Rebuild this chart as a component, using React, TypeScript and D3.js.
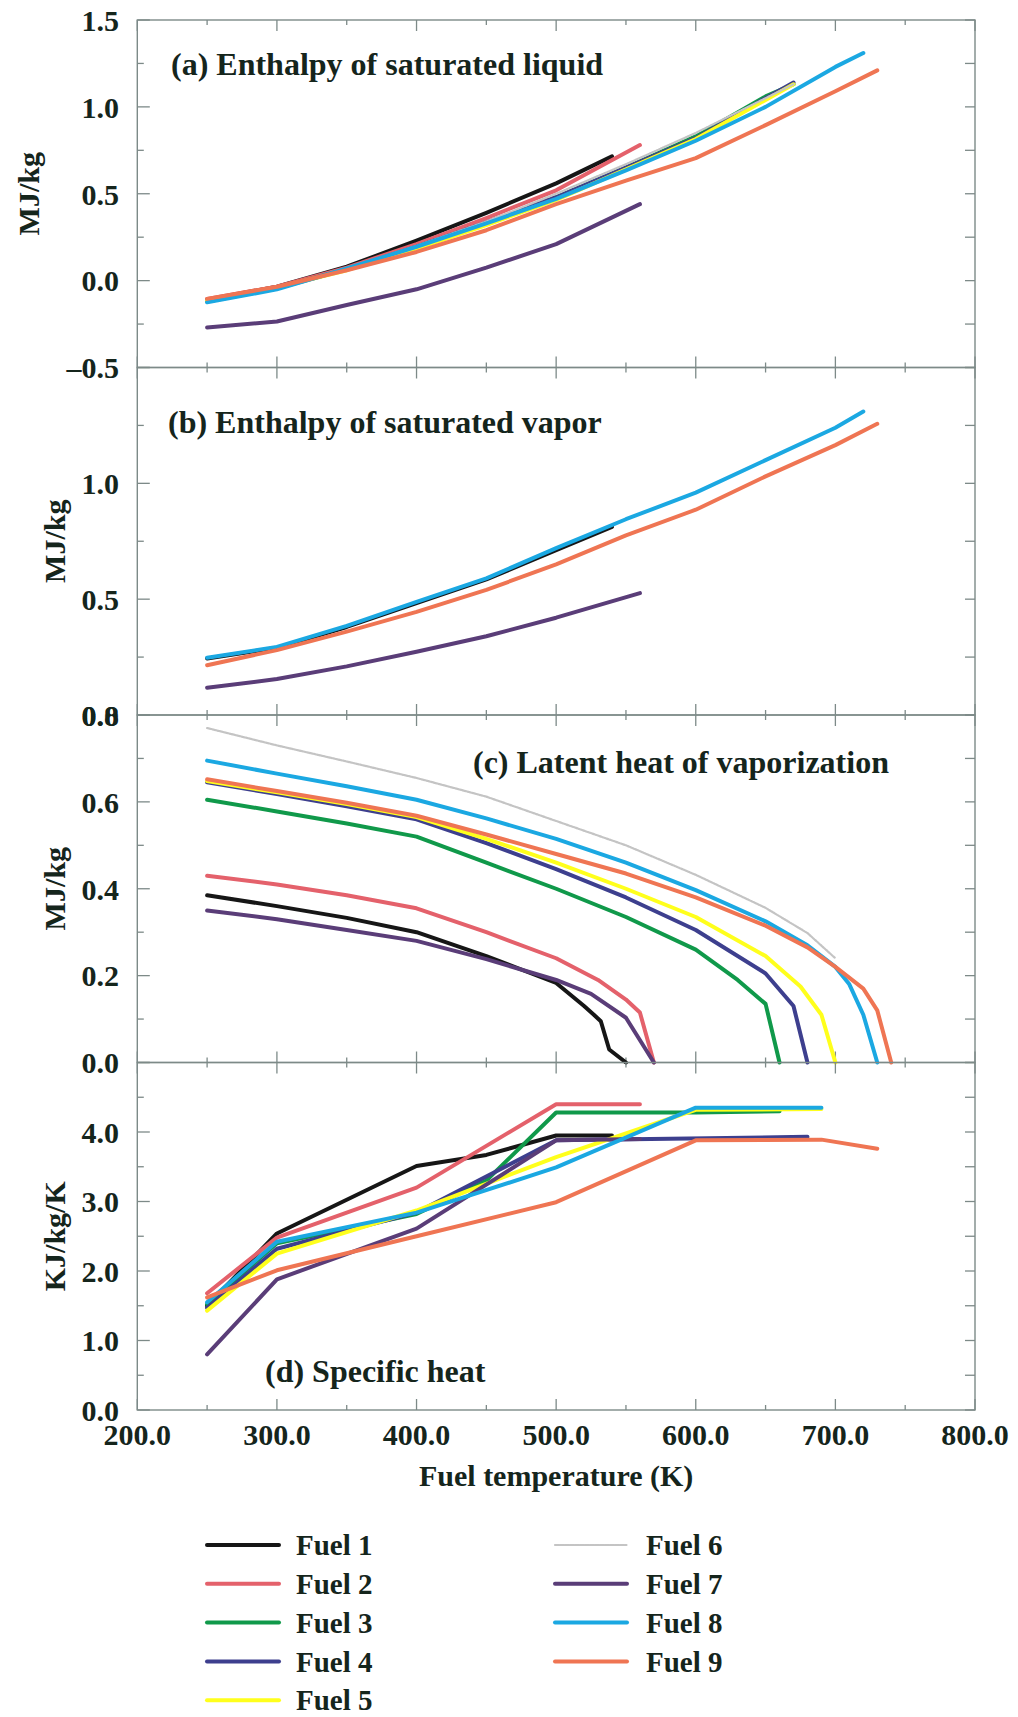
import React from "react";
import * as d3 from "d3";

type Pt = [number, number];

const fuelNames = ["Fuel 1", "Fuel 2", "Fuel 3", "Fuel 4", "Fuel 5", "Fuel 6", "Fuel 7", "Fuel 8", "Fuel 9"];
const fuelColors = ["#161616", "#e4616b", "#10994a", "#3d3f8e", "#ffff1c", "#c4c4c4", "#5a3d78", "#1ba8e2", "#ef7553"];

// (a) Enthalpy of saturated liquid, MJ/kg
const liquidEnthalpy: (Pt[] | null)[] = [
  [[250, -0.11], [300, -0.035], [350, 0.08], [400, 0.23], [450, 0.39], [500, 0.56], [540, 0.715]],
  [[250, -0.105], [300, -0.035], [350, 0.075], [400, 0.21], [450, 0.36], [500, 0.52], [560, 0.78]],
  [[250, -0.115], [300, -0.04], [350, 0.065], [400, 0.19], [450, 0.33], [500, 0.48], [550, 0.65], [600, 0.83], [650, 1.06], [670, 1.13]],
  [[250, -0.12], [300, -0.045], [350, 0.065], [400, 0.195], [450, 0.335], [500, 0.48], [550, 0.65], [600, 0.82], [650, 1.05], [670, 1.14]],
  [[250, -0.115], [300, -0.04], [350, 0.06], [400, 0.185], [450, 0.32], [500, 0.465], [550, 0.64], [600, 0.815], [650, 1.04], [670, 1.13]],
  [[250, -0.12], [300, -0.045], [350, 0.07], [400, 0.2], [450, 0.34], [500, 0.5], [550, 0.67], [600, 0.85], [650, 1.05], [670, 1.13]],
  [[250, -0.27], [300, -0.235], [350, -0.14], [400, -0.05], [450, 0.075], [500, 0.21], [560, 0.44]],
  [[250, -0.125], [300, -0.05], [350, 0.07], [400, 0.195], [450, 0.33], [500, 0.47], [550, 0.635], [600, 0.805], [650, 1.0], [700, 1.23], [720, 1.31]],
  [[250, -0.105], [300, -0.035], [350, 0.06], [400, 0.165], [450, 0.29], [500, 0.44], [550, 0.575], [600, 0.705], [650, 0.895], [700, 1.09], [730, 1.21]],
];

// (b) Enthalpy of saturated vapor, MJ/kg
const vaporEnthalpy: (Pt[] | null)[] = [
  [[250, 0.244], [300, 0.29], [350, 0.38], [400, 0.483], [450, 0.585], [500, 0.712], [540, 0.812]],
  null,
  null,
  null,
  null,
  null,
  [[250, 0.118], [300, 0.155], [350, 0.21], [400, 0.273], [450, 0.34], [500, 0.42], [560, 0.526]],
  [[250, 0.247], [300, 0.294], [350, 0.385], [400, 0.488], [450, 0.59], [500, 0.72], [550, 0.845], [600, 0.96], [650, 1.1], [700, 1.24], [720, 1.31]],
  [[250, 0.215], [300, 0.28], [350, 0.36], [400, 0.445], [450, 0.54], [500, 0.65], [550, 0.775], [600, 0.886], [650, 1.03], [700, 1.165], [730, 1.257]],
];

// (c) Latent heat of vaporization, MJ/kg
const latentHeat: (Pt[] | null)[] = [
  [[250, 0.385], [300, 0.36], [350, 0.333], [400, 0.3], [450, 0.245], [500, 0.183], [520, 0.13], [527, 0.11], [532, 0.095], [538, 0.03], [550, 0.0]],
  [[250, 0.43], [300, 0.41], [350, 0.385], [400, 0.355], [450, 0.3], [500, 0.24], [530, 0.19], [550, 0.145], [560, 0.115], [570, 0.0]],
  [[250, 0.605], [300, 0.578], [350, 0.55], [400, 0.52], [450, 0.46], [500, 0.4], [550, 0.335], [600, 0.26], [630, 0.19], [650, 0.135], [660, 0.0]],
  [[250, 0.645], [300, 0.618], [350, 0.59], [400, 0.56], [450, 0.505], [500, 0.445], [550, 0.38], [600, 0.305], [650, 0.205], [670, 0.13], [680, 0.0]],
  [[250, 0.648], [300, 0.622], [350, 0.595], [400, 0.565], [450, 0.515], [500, 0.46], [550, 0.4], [600, 0.335], [650, 0.245], [675, 0.175], [690, 0.11], [700, 0.0]],
  [[250, 0.77], [300, 0.73], [350, 0.693], [400, 0.655], [450, 0.612], [500, 0.556], [550, 0.5], [600, 0.432], [650, 0.356], [680, 0.298], [700, 0.24]],
  [[250, 0.35], [300, 0.33], [350, 0.305], [400, 0.28], [450, 0.238], [500, 0.19], [525, 0.158], [550, 0.103], [570, 0.0]],
  [[250, 0.695], [300, 0.665], [350, 0.636], [400, 0.605], [450, 0.562], [500, 0.515], [550, 0.46], [600, 0.397], [650, 0.325], [680, 0.27], [700, 0.22], [710, 0.18], [720, 0.11], [730, 0.0]],
  [[250, 0.652], [300, 0.625], [350, 0.598], [400, 0.568], [450, 0.525], [500, 0.48], [550, 0.435], [600, 0.38], [650, 0.315], [680, 0.265], [700, 0.22], [720, 0.17], [730, 0.12], [740, 0.0]],
];

// (d) Specific heat, KJ/kg/K
const specificHeat: (Pt[] | null)[] = [
  [[250, 1.5], [300, 2.54], [400, 3.51], [450, 3.67], [500, 3.95], [540, 3.95]],
  [[250, 1.68], [300, 2.48], [400, 3.2], [500, 4.4], [560, 4.4]],
  [[250, 1.52], [300, 2.4], [400, 2.82], [450, 3.3], [500, 4.28], [600, 4.28], [660, 4.3]],
  [[250, 1.47], [300, 2.32], [400, 2.84], [500, 3.88], [680, 3.93]],
  [[250, 1.43], [300, 2.25], [400, 2.87], [500, 3.64], [600, 4.32], [690, 4.33]],
  null,
  [[250, 0.8], [300, 1.88], [400, 2.61], [500, 3.88], [560, 3.9]],
  [[250, 1.55], [300, 2.42], [400, 2.84], [500, 3.49], [600, 4.35], [690, 4.35]],
  [[250, 1.62], [300, 2.01], [400, 2.5], [500, 2.99], [600, 3.88], [690, 3.89], [730, 3.76]],
];

const tempTicks = [200, 300, 400, 500, 600, 700, 800];
const liquidTicks = [-0.5, 0.0, 0.5, 1.0, 1.5];
const vaporTicks = [0.0, 0.5, 1.0];
const latentTicks = [0.0, 0.2, 0.4, 0.6, 0.8];
const heatTicks = [0.0, 1.0, 2.0, 3.0, 4.0];

const panelTitles = [
  "(a) Enthalpy of saturated liquid",
  "(b) Enthalpy of saturated vapor",
  "(c) Latent heat of vaporization",
  "(d) Specific heat",
];
const unitLabels = ["MJ/kg", "MJ/kg", "MJ/kg", "KJ/kg/K"];
const xTitle = "Fuel temperature (K)";

const FONT = "'Liberation Serif', 'Times New Roman', serif";
const INK = "#15251c";
const AXIS = "#7d8a88";

const X0 = 137.3;
const X1 = 975;
const TOP = 20;
const PH = 347.5;

const x = d3.scaleLinear().domain([200, 800]).range([X0, X1]);

interface PanelSpec {
  series: (Pt[] | null)[];
  domain: [number, number];
  majorStep: number;
  minorStep: number;
  labels: number[];
  title: string;
  titleX: number;
  titleY: number;
  unit: string;
  unitX: number;
}

const panels: PanelSpec[] = [
  { series: liquidEnthalpy, domain: [-0.5, 1.5], majorStep: 0.5, minorStep: 0.25, labels: liquidTicks, title: panelTitles[0], titleX: 171, titleY: 75, unit: unitLabels[0], unitX: 28 },
  { series: vaporEnthalpy, domain: [0, 1.5], majorStep: 0.5, minorStep: 0.25, labels: vaporTicks, title: panelTitles[1], titleX: 168, titleY: 433, unit: unitLabels[1], unitX: 54 },
  { series: latentHeat, domain: [0, 0.8], majorStep: 0.2, minorStep: 0.1, labels: latentTicks, title: panelTitles[2], titleX: 473, titleY: 773, unit: unitLabels[2], unitX: 54 },
  { series: specificHeat, domain: [0, 5], majorStep: 1, minorStep: 0.5, labels: heatTicks, title: panelTitles[3], titleX: 265, titleY: 1382, unit: unitLabels[3], unitX: 54 },
];

const fmt = (v: number) => d3.format(".1f")(v).replace("-", "–").replace("−", "–");

// Fuel 6 is drawn as a thin, stippled grey trace
const strokeFor = (i: number) => ({
  stroke: fuelColors[i],
  strokeWidth: i === 5 ? 2.2 : 4,
  strokeDasharray: i === 5 ? "1.5 1" : undefined,
});

function Panel({ spec, index }: { spec: PanelSpec; index: number }) {
  const top = TOP + index * PH;
  const bottom = top + PH;
  const y = d3.scaleLinear().domain(spec.domain).range([bottom, top]);
  const line = d3
    .line<Pt>()
    .x((d) => x(d[0]))
    .y((d) => y(d[1]));

  const [lo, hi] = spec.domain;
  const yMinor = d3.range(0, Math.round((hi - lo) / spec.minorStep) + 1).map((i) => lo + i * spec.minorStep);
  const isMajorY = (v: number) => Math.abs(v / spec.majorStep - Math.round(v / spec.majorStep)) < 1e-6;
  const xMinor = d3.range(200, 801, 50);

  return (
    <g>
      <rect x={X0} y={top} width={X1 - X0} height={PH} fill="none" stroke={AXIS} strokeWidth={1.4} />
      {xMinor.map((t) => {
        const len = t % 100 === 0 ? 11 : 5;
        return (
          <g key={"xt" + t} stroke={AXIS} strokeWidth={1.3}>
            <line x1={x(t)} x2={x(t)} y1={bottom} y2={bottom - len} />
            <line x1={x(t)} x2={x(t)} y1={top} y2={top + len} />
          </g>
        );
      })}
      {yMinor.map((v) => {
        const major = isMajorY(v);
        return (
          <g key={"yt" + v} stroke={AXIS} strokeWidth={1.3}>
            <line x1={X0} x2={X0 + (major ? 12.5 : 6.5)} y1={y(v)} y2={y(v)} />
            <line x1={X1} x2={X1 - 10} y1={y(v)} y2={y(v)} />
          </g>
        );
      })}
      {spec.labels.map((v) => (
        <text
          key={"yl" + v}
          x={119}
          y={y(v)}
          dy="0.36em"
          textAnchor="end"
          fontFamily={FONT}
          fontWeight="bold"
          fontSize={30}
          fill={INK}
        >
          {fmt(v)}
        </text>
      ))}
      <text
        transform={`translate(${spec.unitX},${(top + bottom) / 2}) rotate(-90)`}
        textAnchor="middle"
        dy="0.35em"
        fontFamily={FONT}
        fontWeight="bold"
        fontSize={30}
        fill={INK}
      >
        {spec.unit}
      </text>
      <text x={spec.titleX} y={spec.titleY} fontFamily={FONT} fontWeight="bold" fontSize={32} fill={INK}>
        {spec.title}
      </text>
      {spec.series.map((pts, i) =>
        pts ? (
          <path
            key={"s" + i}
            d={line(pts) || ""}
            fill="none"
            {...strokeFor(i)}
            strokeLinejoin="round"
            strokeLinecap="round"
          />
        ) : null
      )}
    </g>
  );
}

export default function App() {
  const axisBottom = TOP + 4 * PH;
  const legendRows = [0, 1, 2, 3, 4];
  const rowY = (r: number) => 1545 + r * 38.8;
  return (
    <svg
      width={1018}
      height={1717}
      viewBox="0 0 1018 1717"
      style={{ position: "absolute", left: 0, top: 0, background: "#ffffff" }}
    >
      <rect x={0} y={0} width={1018} height={1717} fill="#ffffff" />
      {panels.map((p, i) => (
        <Panel key={i} spec={p} index={i} />
      ))}
      {tempTicks.map((t) => (
        <text
          key={"xl" + t}
          x={x(t)}
          y={axisBottom + 35}
          textAnchor="middle"
          fontFamily={FONT}
          fontWeight="bold"
          fontSize={30}
          fill={INK}
        >
          {t.toFixed(1)}
        </text>
      ))}
      <text x={(X0 + X1) / 2} y={axisBottom + 76} textAnchor="middle" fontFamily={FONT} fontWeight="bold" fontSize={30} fill={INK}>
        {xTitle}
      </text>
      {fuelNames.map((name, i) => {
        const col = i < 5 ? 0 : 1;
        const row = i < 5 ? i : i - 5;
        const lx = col === 0 ? 207 : 555;
        const tx = col === 0 ? 296 : 646;
        const ly = rowY(legendRows[row]);
        return (
          <g key={name}>
            <line x1={lx} x2={lx + 72} y1={ly} y2={ly} {...strokeFor(i)} strokeLinecap="round" />
            <text x={tx} y={ly} dy="0.35em" fontFamily={FONT} fontWeight="bold" fontSize={29} fill={INK}>
              {name}
            </text>
          </g>
        );
      })}
    </svg>
  );
}
